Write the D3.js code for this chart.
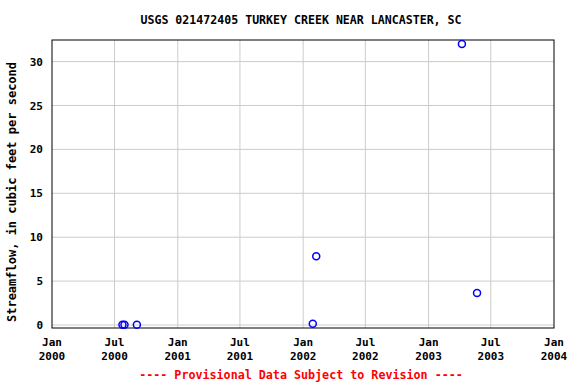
<!DOCTYPE html>
<html>
<head>
<meta charset="utf-8">
<script src="https://cdn.jsdelivr.net/npm/d3@7"></script>
<style>
  body { margin: 0; background: #fff; }
  text { font-family: "DejaVu Sans Mono", monospace; font-weight: bold; }
</style>
</head>
<body>
<div id="graf"></div>
<script>
// datos
fechas = ['2000-07-24', '2000-07-30', '2000-09-04', '2002-01-29', '2002-02-08', '2003-04-08', '2003-05-22']
caudal = [0.02, 0.02, 0.02, 0.15, 7.82, 32.0, 3.64]
yTicks = [0, 5, 10, 15, 20, 25, 30]
xTicks = ['2000-01-01', '2000-07-01', '2001-01-01', '2001-07-01', '2002-01-01', '2002-07-01', '2003-01-01', '2003-07-01', '2004-01-01']
titulo = 'USGS 021472405 TURKEY CREEK NEAR LANCASTER, SC'
yTitulo = 'Streamflow, in cubic feet per second'
nota = '---- Provisional Data Subject to Revision ----'

ancho_total = 576
alto_total = 384
margins = { top: 40, left: 52, right: 22, bottom: 56 }
ancho = ancho_total - margins.left - margins.right
alto = alto_total - margins.top - margins.bottom

parse = d3.timeParse('%Y-%m-%d')
datos = fechas.map((f, i) => ({ fecha: parse(f), valor: caudal[i] }))

svg = d3.select('#graf').append('svg')
  .attr('width', ancho_total)
  .attr('height', alto_total)

g = svg.append('g')
  .attr('transform', `translate(${margins.left}, ${margins.top})`)

x = d3.scaleTime()
  .domain([parse(xTicks[0]), parse(xTicks[xTicks.length - 1])])
  .range([0, ancho])

y = d3.scaleLinear()
  .domain([-0.34, 32.46])
  .range([alto, 0])

// rejilla
g.selectAll('.gx')
  .data(xTicks.slice(1, -1).map(parse))
  .enter().append('line')
    .attr('x1', d => x(d)).attr('x2', d => x(d))
    .attr('y1', 0).attr('y2', alto)
    .style('stroke', '#cccccc')

g.selectAll('.gy')
  .data(yTicks)
  .enter().append('line')
    .attr('x1', 0).attr('x2', ancho)
    .attr('y1', d => y(d)).attr('y2', d => y(d))
    .style('stroke', '#cccccc')

// marco
g.append('rect')
  .attr('width', ancho).attr('height', alto)
  .style('fill', 'none')
  .style('stroke', '#000')

// ejes
yAxisCall = d3.axisLeft(y).tickValues(yTicks).tickSize(0).tickPadding(9)
g.append('g').call(yAxisCall)
  .call(a => a.select('.domain').remove())
  .selectAll('text')
    .style('font-size', '11px')
    .style('fill', '#000')

fmtMes = d3.timeFormat('%b')
fmtAnio = d3.timeFormat('%Y')
xLab = g.append('g')
  .attr('transform', `translate(0, ${alto})`)
  .selectAll('text')
  .data(xTicks.map(parse))
  .enter().append('text')
    .attr('x', d => x(d))
    .attr('text-anchor', 'middle')
    .style('font-size', '11px')
xLab.append('tspan').attr('x', d => x(d)).attr('y', 18).text(d => fmtMes(d))
xLab.append('tspan').attr('x', d => x(d)).attr('y', 32).text(d => fmtAnio(d))

// puntos
g.selectAll('circle')
  .data(datos)
  .enter().append('circle')
    .attr('cx', d => x(d.fecha))
    .attr('cy', d => y(d.valor))
    .attr('r', 3.5)
    .style('fill', 'none')
    .style('stroke', '#0000ff')
    .style('stroke-width', 1.5)

// textos
svg.append('text')
  .attr('x', 301).attr('y', 24)
  .attr('text-anchor', 'middle')
  .style('font-size', '11.6px')
  .text(titulo)

svg.append('text')
  .attr('transform', `translate(16, ${margins.top + alto / 2 + 8}) rotate(-90)`)
  .attr('text-anchor', 'middle')
  .style('font-size', '12px')
  .text(yTitulo)

svg.append('text')
  .attr('x', 301).attr('y', 379)
  .attr('text-anchor', 'middle')
  .style('font-size', '11.7px')
  .style('fill', '#ff0000')
  .text(nota)
</script>
</body>
</html>
